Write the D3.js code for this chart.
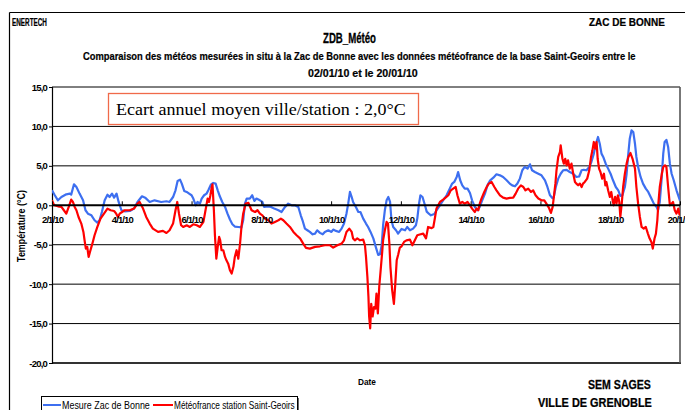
<!DOCTYPE html>
<html><head><meta charset="utf-8">
<script src="https://cdn.jsdelivr.net/npm/d3@7"></script>
<style>
body{margin:0;background:#fff}
svg{display:block}
text{font-family:"Liberation Sans",Arial,sans-serif}
</style>
</head><body>
<svg id="c" width="685" height="410"></svg>
<script>
// ---------- data ----------
const seriesNames = ["Mesure Zac de Bonne", "Météofrance station Saint-Geoirs"];
const seriesColors = ["#3d6ff0", "#ff0000"];
const yTickValues = [-20, -15, -10, -5, 0, 5, 10, 15];
const xTickDays = [2, 4, 6, 8, 10, 12, 14, 16, 18, 20];
const xTickLabels = ["2/1/10","4/1/10","6/1/10","8/1/10","10/1/10","12/1/10","14/1/10","16/1/10","18/1/10","20/1/10"];

// [day of January 2010, temperature °C]
const zacBonne = [
[2.00,1.9],[2.08,1.27],[2.17,0.63],[2.27,1.05],[2.41,1.39],[2.51,1.48],[2.55,1.35],[2.63,2.66],[2.70,2.32],[2.79,1.48],
[2.89,0.63],[2.96,-0.63],[3.03,-1.06],[3.13,-1.27],[3.22,-1.9],[3.30,-2.2],[3.37,-1.82],[3.43,-0.85],[3.51,0.63],[3.59,1.35],
[3.65,1.05],[3.72,1.48],[3.78,0.97],[3.85,1.48],[3.91,0.42],[3.99,-0.63],[4.08,-0.76],[4.23,-0.72],[4.35,-0.42],[4.45,0.42],
[4.58,1.14],[4.67,0.97],[4.80,0.42],[4.94,0.63],[5.13,0.42],[5.28,0.51],[5.37,0.42],[5.47,1.05],[5.54,1.9],[5.60,3.08],
[5.67,3.25],[5.72,2.75],[5.79,1.82],[5.86,1.69],[5.93,1.48],[6.00,1.27],[6.05,0.85],[6.12,0],[6.17,0.42],[6.24,0.21],
[6.29,0.85],[6.36,1.27],[6.43,1.48],[6.48,1.9],[6.56,2.66],[6.62,2.83],[6.69,2.75],[6.75,1.9],[6.81,1.14],[6.88,0.42],
[6.96,-0.21],[7.03,-1.06],[7.10,-1.8],[7.17,-2.4],[7.24,-2.7],[7.34,-2.75],[7.43,-2.8],[7.48,-1.9],[7.53,0.21],[7.58,0.85],
[7.67,0.85],[7.74,1.27],[7.80,0.55],[7.86,0.85],[7.96,0.63],[8.03,0.42],[8.08,-0.21],[8.18,-0.13],[8.28,-0.21],[8.37,-0.42],
[8.49,-0.63],[8.58,-0.85],[8.68,-0.21],[8.77,0.21],[8.87,0],[8.96,0],[9.06,-0.21],[9.13,-1.27],[9.18,-1.9],[9.25,-2.96],
[9.32,-3.17],[9.39,-3.38],[9.47,-3.68],[9.54,-3.59],[9.60,-3.17],[9.68,-3.5],[9.76,-3.68],[9.82,-3.38],[9.92,-3.17],[10.01,-3.38],
[10.06,-3.08],[10.14,-3.25],[10.23,-3.38],[10.30,-2.96],[10.37,-2.32],[10.44,-1.06],[10.49,0.21],[10.54,1.69],[10.59,1.05],[10.63,0.42],
[10.71,-0.21],[10.78,-0.85],[10.84,-0.85],[10.92,-1.69],[11.00,-2.32],[11.06,-2.75],[11.13,-3.38],[11.21,-4.2],[11.28,-5.28],[11.35,-6.3],
[11.40,-6.2],[11.45,-5.07],[11.49,-2.53],[11.54,-0.63],[11.59,0.63],[11.64,1.05],[11.69,0.42],[11.73,-1.9],[11.78,-2.75],[11.86,-3.17],
[11.92,-3.59],[12.02,-3.0],[12.12,-3.17],[12.18,-2.75],[12.26,-3.17],[12.35,-2.96],[12.43,-2.53],[12.47,-1.69],[12.52,0.21],[12.56,1.27],
[12.62,1.05],[12.69,0.0],[12.74,-0.8],[12.81,-1.1],[12.86,-1.27],[12.96,-1.1],[13.02,-0.63],[13.12,0],[13.21,0.63],[13.31,1.27],
[13.40,2.11],[13.47,2.75],[13.53,2.96],[13.60,3.59],[13.64,4.22],[13.70,3.17],[13.76,2.53],[13.83,2.11],[13.91,2.11],[13.98,1.56],
[14.04,0.63],[14.12,-0.21],[14.20,-0.63],[14.26,-0.21],[14.33,0.63],[14.41,1.48],[14.48,2.53],[14.56,3.17],[14.65,3.5],[14.74,3.93],
[14.84,3.8],[14.93,3.59],[15.03,3.17],[15.12,2.75],[15.19,2.53],[15.27,2.41],[15.34,2.75],[15.41,3.38],[15.48,4.44],[15.55,4.86],
[15.63,4.65],[15.70,5.2],[15.76,4.44],[15.84,4.22],[15.94,4.0],[16.03,3.8],[16.13,3.17],[16.20,2.32],[16.27,1.3],[16.34,0.9],
[16.38,1.0],[16.44,2.32],[16.51,3.38],[16.58,4.0],[16.65,4.44],[16.75,4.5],[16.84,4.22],[16.94,4.0],[17.03,3.59],[17.11,3.65],
[17.18,4.44],[17.24,4.5],[17.32,4.44],[17.40,4.86],[17.46,5.49],[17.53,6.55],[17.59,7.8],[17.65,8.66],[17.70,7.8],[17.75,6.55],
[17.80,6.13],[17.87,5.28],[17.94,4.65],[18.01,4.0],[18.08,3.17],[18.16,2.32],[18.23,1.9],[18.29,1.2],[18.35,1.27],[18.42,2.32],
[18.47,4.0],[18.51,6.13],[18.56,8.45],[18.61,9.5],[18.66,9.3],[18.71,7.8],[18.75,6.13],[18.80,4.86],[18.87,3.59],[18.94,2.75],
[19.02,2.11],[19.09,1.69],[19.18,0.85],[19.25,0.21],[19.33,-0.21],[19.37,-0.63],[19.42,0.42],[19.47,3.17],[19.52,6.55],[19.56,8.03],
[19.61,8.3],[19.66,7.4],[19.71,5.28],[19.76,4.0],[19.82,3.17],[19.90,1.9],[19.98,0.85],[20.00,0.6]
];

const saintGeoirs = [
[2.00,0.63],[2.06,0],[2.17,-0.13],[2.27,-0.21],[2.34,-0.63],[2.41,-1.06],[2.48,-0.21],[2.55,0.72],[2.60,0.42],[2.65,-0.21],
[2.70,-0.63],[2.76,-1.48],[2.84,-2.32],[2.90,-3.38],[2.94,-4.65],[2.97,-5.49],[3.01,-5.28],[3.05,-6.55],[3.09,-5.9],[3.13,-5.28],
[3.17,-4.65],[3.22,-3.8],[3.30,-2.75],[3.39,-1.69],[3.49,-1.06],[3.59,-0.42],[3.68,-0.63],[3.78,-0.72],[3.84,-1.06],[3.89,-1.48],
[3.94,-1.06],[4.01,-0.85],[4.08,-0.63],[4.23,-0.63],[4.35,-0.42],[4.45,0.21],[4.51,0.42],[4.61,-0.42],[4.70,-1.48],[4.80,-2.32],
[4.89,-2.96],[5.04,-3.38],[5.18,-3.25],[5.28,-3.51],[5.37,-3.17],[5.47,-2.32],[5.54,-0.63],[5.59,0.42],[5.64,-1.06],[5.70,-2.53],
[5.76,-2.75],[5.86,-2.53],[5.95,-2.75],[6.05,-2.41],[6.15,-2.53],[6.24,-2.75],[6.34,-2.11],[6.40,-0.63],[6.46,0.85],[6.50,0.42],
[6.54,1.27],[6.58,2.32],[6.60,2.66],[6.64,-0.63],[6.67,-3.8],[6.71,-6.77],[6.75,-5.28],[6.79,-4.0],[6.82,-4.4],[6.86,-5.7],
[6.91,-5.7],[6.96,-6.55],[7.00,-6.98],[7.05,-7.4],[7.10,-8.24],[7.15,-8.66],[7.20,-7.8],[7.24,-6.55],[7.29,-5.7],[7.34,-6.77],
[7.39,-4.86],[7.43,-2.75],[7.48,-1.06],[7.55,0.21],[7.63,0.3],[7.72,-0.63],[7.82,-0.85],[7.89,-0.63],[7.96,-1.06],[8.03,-1.27],
[8.10,-1.69],[8.20,-1.9],[8.29,-2.32],[8.39,-2.11],[8.49,-1.9],[8.56,-1.69],[8.63,-1.9],[8.72,-2.32],[8.82,-2.75],[8.92,-3.38],
[9.01,-3.8],[9.11,-4.2],[9.20,-4.86],[9.28,-5.4],[9.39,-5.49],[9.54,-5.28],[9.68,-5.2],[9.82,-5.07],[9.97,-5.07],[10.06,-5.36],
[10.18,-5.07],[10.30,-4.86],[10.37,-4.44],[10.44,-3.38],[10.52,-2.96],[10.59,-3.38],[10.63,-4.2],[10.68,-4.44],[10.75,-4.2],[10.83,-4.44],
[10.92,-4.35],[10.97,-5.07],[11.00,-6.55],[11.04,-9.1],[11.07,-11.6],[11.09,-14.1],[11.12,-15.6],[11.15,-12.5],[11.19,-14.1],[11.23,-12.9],
[11.27,-13.1],[11.30,-11.2],[11.34,-13.7],[11.38,-10.3],[11.42,-8.24],[11.46,-6.13],[11.49,-4.44],[11.54,-3.17],[11.59,-2.11],[11.63,-2.32],
[11.67,-4.86],[11.70,-7.8],[11.75,-10.75],[11.80,-12.5],[11.84,-9.93],[11.88,-6.98],[11.92,-6.3],[11.97,-5.36],[12.02,-5.2],[12.09,-4.65],
[12.16,-4.44],[12.26,-4.35],[12.33,-5.07],[12.40,-4.44],[12.47,-3.8],[12.54,-3.7],[12.64,-3.59],[12.72,-4.2],[12.78,-2.75],[12.88,-2.9],
[12.93,-2.75],[12.98,-1.48],[13.02,-0.42],[13.12,0.42],[13.21,0.72],[13.28,0.97],[13.36,1.27],[13.43,1.9],[13.50,2.11],[13.57,2.32],
[13.62,1.27],[13.69,0.21],[13.76,0.42],[13.83,0.21],[13.91,0.42],[13.98,0],[14.04,-0.42],[14.12,-0.85],[14.17,-0.42],[14.22,-0.63],
[14.26,0.21],[14.31,0.85],[14.39,1.69],[14.46,2.32],[14.52,2.75],[14.60,2.96],[14.68,2.32],[14.74,1.9],[14.84,1.27],[14.93,0.97],
[15.03,0.85],[15.12,0.93],[15.22,0.97],[15.29,1.48],[15.36,2.11],[15.44,2.53],[15.51,2.32],[15.57,1.9],[15.65,2.11],[15.73,1.69],
[15.79,1.9],[15.86,1.27],[15.94,0.85],[16.03,0.63],[16.11,0.63],[16.17,0.21],[16.24,-0.3],[16.30,-0.97],[16.35,-0.2],[16.39,1.27],
[16.43,2.8],[16.46,4.44],[16.51,6.13],[16.56,6.76],[16.58,7.6],[16.63,5.9],[16.67,5.28],[16.71,5.9],[16.75,5.07],[16.79,5.7],
[16.84,4.65],[16.89,5.28],[16.94,4.0],[16.99,2.96],[17.03,2.75],[17.08,2.53],[17.13,2.75],[17.18,2.32],[17.22,2.75],[17.27,2.96],
[17.34,3.38],[17.40,4.44],[17.45,6.13],[17.49,6.97],[17.53,8.03],[17.57,7.2],[17.61,8.03],[17.64,5.9],[17.68,4.65],[17.72,4.22],
[17.77,3.38],[17.82,4.0],[17.86,2.53],[17.89,2.96],[17.94,1.9],[17.99,1.06],[18.03,1.69],[18.07,0.63],[18.10,0],[18.14,1.06],
[18.18,0.21],[18.22,1.27],[18.26,0.42],[18.29,-1.48],[18.33,0.21],[18.37,2.32],[18.42,4.0],[18.47,5.28],[18.52,6.13],[18.58,6.63],
[18.64,5.9],[18.71,4.65],[18.75,2.32],[18.80,0.21],[18.85,-1.48],[18.90,-2.75],[18.96,-2.96],[19.02,-2.75],[19.08,-3.59],[19.13,-4.22],
[19.18,-4.65],[19.22,-5.49],[19.27,-4.22],[19.31,-3.59],[19.35,-1.9],[19.38,0.21],[19.42,2.32],[19.48,4.0],[19.52,4.86],[19.57,5.07],
[19.61,4.86],[19.66,2.32],[19.71,0],[19.76,0.21],[19.80,0.42],[19.85,-0.63],[19.90,-1.06],[19.95,-0.42],[19.99,-1.27]
];

// ---------- drawing ----------
const svg = d3.select("#c");
const P = {l:52, r:680, t:87, b:363};
const x = d3.scaleLinear().domain([2,20]).range([P.l,P.r]);
const y = d3.scaleLinear().domain([-20,15]).range([P.b,P.t]);

// outer frame
svg.append("line").attr("x1",9.5).attr("x2",685).attr("y1",12.5).attr("y2",12.5).attr("stroke","#000").attr("stroke-width",1.2);
svg.append("line").attr("x1",9.5).attr("x2",9.5).attr("y1",12.5).attr("y2",410).attr("stroke","#000").attr("stroke-width",1.2);

// text fitted to a target width by horizontal scaling (condensed look)
function txt(s, x0, y0, size, width, opts={}) {
  const t = svg.append("text").attr("x",0).attr("y",0).text(s)
    .attr("font-size",size).attr("font-weight",opts.weight||"bold").attr("fill","#000");
  if (opts.family) t.style("font-family",opts.family);
  if (opts.stroke) t.attr("stroke","#000").attr("stroke-width",opts.stroke);
  const w = t.node().getComputedTextLength();
  const sx = width ? width / w : 1;
  t.attr("transform",`translate(${x0},${y0}) scale(${sx},1)`);
  return t;
}
txt("ENERTECH", 12, 26, 11.5, 35, {stroke:0.25});
txt("ZAC DE BONNE", 589, 26, 11.5, 76, {stroke:0.25});
txt("ZDB_Météo", 323, 43, 15, 53, {stroke:0.3});
txt("Comparaison des météos mesurées in situ à la Zac de Bonne avec les données météofrance de la base Saint-Geoirs entre le", 83, 60, 10.5, 553, {stroke:0.2});
txt("02/01/10 et le 20/01/10", 308, 77, 10.5, 110, {stroke:0.2});

// gridlines
svg.append("g").selectAll("line").data(yTickValues.filter(v=>v!==0 && v!==-20)).join("line")
  .attr("x1",P.l).attr("x2",P.r).attr("y1",d=>y(d)).attr("y2",d=>y(d))
  .attr("stroke","#000").attr("stroke-width",1);
// bottom & right border
svg.append("line").attr("x1",P.l).attr("x2",P.r+1).attr("y1",y(-20)).attr("y2",y(-20)).attr("stroke","#333").attr("stroke-width",2);
svg.append("line").attr("x1",P.r).attr("x2",P.r).attr("y1",P.t).attr("y2",P.b).attr("stroke","#555").attr("stroke-width",1.6);

// y axis
const fmt = d => (d<0?"-":"") + Math.abs(d).toFixed(1).replace(".",",");
const ya = svg.append("g").attr("transform",`translate(${P.l},0)`)
  .call(d3.axisLeft(y).tickValues(yTickValues).tickSize(3).tickPadding(2).tickFormat(fmt));
ya.select(".domain").attr("stroke","#000").attr("stroke-width",1.2);
ya.selectAll("text").attr("font-size",9.5).attr("font-weight","bold").attr("fill","#000")
  .style("font-family","'Liberation Sans',Arial,sans-serif").attr("letter-spacing","-0.8");

// annotation box
svg.append("rect").attr("x",108.5).attr("y",93.5).attr("width",310).attr("height",31)
  .attr("fill","#fff").attr("stroke","#f06a4a").attr("stroke-width",1.3);
txt("Ecart annuel moyen ville/station : 2,0°C", 116, 115, 17, 290, {weight:"normal", family:"'Liberation Serif','Times New Roman',serif"});

// clip
svg.append("clipPath").attr("id","clip").append("rect").attr("x",P.l).attr("y",P.t).attr("width",P.r-P.l).attr("height",P.b-P.t);
const line = d3.line().x(d=>x(d[0])).y(d=>y(d[1]));
const g = svg.append("g").attr("clip-path","url(#clip)");
[zacBonne, saintGeoirs].forEach((data,i)=>{
  g.append("path").datum(data).attr("d",line).attr("fill","none")
    .attr("stroke",seriesColors[i]).attr("stroke-width",2.2).attr("stroke-linejoin","round");
});

// x axis on zero line
svg.append("line").attr("x1",P.l).attr("x2",P.r).attr("y1",y(0)).attr("y2",y(0)).attr("stroke","#000").attr("stroke-width",2);
const xa = svg.append("g").attr("transform",`translate(0,${y(0)})`)
  .call(d3.axisBottom(x).tickValues(xTickDays).tickSizeInner(-4).tickSizeOuter(0).tickPadding(11).tickFormat((d,i)=>xTickLabels[i]));
xa.select(".domain").remove();
xa.selectAll("line").attr("stroke","#000");
xa.selectAll("text").attr("font-size",9.5).attr("font-weight","bold").attr("fill","#000")
  .style("font-family","'Liberation Sans',Arial,sans-serif").attr("letter-spacing","-0.9");

// axis titles
txt("Date", 358, 385, 9, 18);
svg.append("text").attr("transform","translate(25,226) rotate(-90) scale(0.85,1)").attr("text-anchor","middle")
  .attr("font-size",10.5).attr("font-weight","bold")
  .text("Température (°C)");

// footer
txt("SEM SAGES", 588, 389, 12, 63, {stroke:0.25});
txt("VILLE DE GRENOBLE", 538, 407, 12, 114, {stroke:0.25});

// legend
svg.append("rect").attr("x",43).attr("y",398).attr("width",256).attr("height",20).attr("fill","#666");
svg.append("rect").attr("x",41.5).attr("y",396.5).attr("width",256).attr("height",20).attr("fill","#fff").attr("stroke","#000").attr("stroke-width",1);
const legX = [[43,61,62,88],[153,173,174,121]];
seriesNames.forEach((n,i)=>{
  svg.append("line").attr("x1",legX[i][0]).attr("x2",legX[i][1]).attr("y1",405).attr("y2",405)
    .attr("stroke",seriesColors[i]).attr("stroke-width",2);
  txt(n, legX[i][2], 409, 10, legX[i][3], {weight:"normal"});
});
</script>
</body></html>
